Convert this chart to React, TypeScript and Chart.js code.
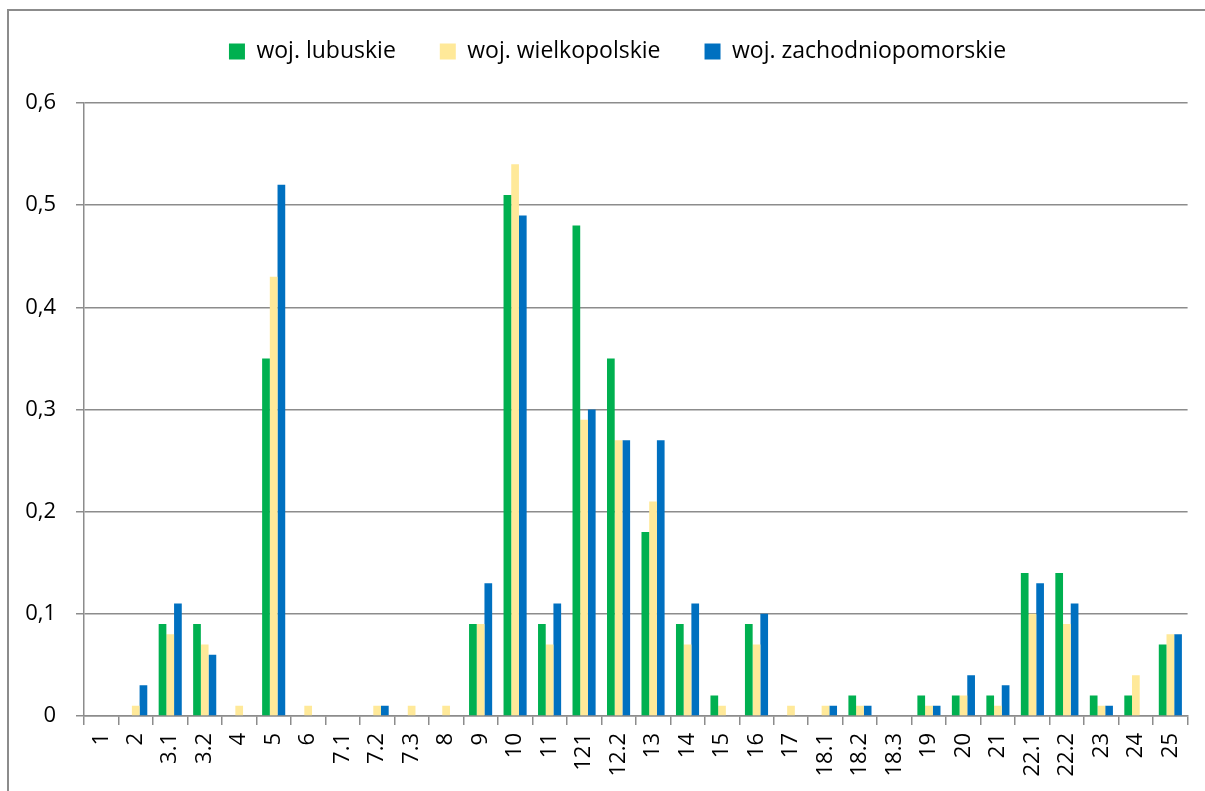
import React, { useEffect, useRef } from "react";
import { Chart, registerables } from "chart.js";

Chart.register(...registerables);

const categories = ["1", "2", "3.1", "3.2", "4", "5", "6", "7.1", "7.2", "7.3", "8", "9", "10", "11", "121", "12.2", "13", "14", "15", "16", "17", "18.1", "18.2", "18.3", "19", "20", "21", "22.1", "22.2", "23", "24", "25"];

const lubuskie = [0, 0, 0.09, 0.09, 0, 0.35, 0, 0, 0, 0, 0, 0.09, 0.51, 0.09, 0.48, 0.35, 0.18, 0.09, 0.02, 0.09, 0, 0, 0.02, 0, 0.02, 0.02, 0.02, 0.14, 0.14, 0.02, 0.02, 0.07];
const wielkopolskie = [0, 0.01, 0.08, 0.07, 0.01, 0.43, 0.01, 0, 0.01, 0.01, 0.01, 0.09, 0.54, 0.07, 0.29, 0.27, 0.21, 0.07, 0.01, 0.07, 0.01, 0.01, 0.01, 0, 0.01, 0.02, 0.01, 0.1, 0.09, 0.01, 0.04, 0.08];
const zachodniopomorskie = [0, 0.03, 0.11, 0.06, 0, 0.52, 0, 0, 0.01, 0, 0, 0.13, 0.49, 0.11, 0.3, 0.27, 0.27, 0.11, 0, 0.1, 0, 0.01, 0.01, 0, 0.01, 0.04, 0.03, 0.13, 0.11, 0.01, 0, 0.08];

const seriesNames = ["woj. lubuskie", "woj. wielkopolskie", "woj. zachodniopomorskie"];
const seriesColors = ["#00B050", "#FFE999", "#0070C0"];

const yMin = 0;
const yMax = 0.6;
const yStep = 0.1;

const FONT = "'Open Sans'";
const GRID = "#8c8c8c";
const LEGEND_EXTRA = 26;
const LEGEND_SHIFT_X = 23;
const LEGEND_SHIFT_Y = -4;

const legendGap = {
  id: "legendGap",
  afterInit(chart: any) {
    const legend = chart.legend;
    if (!legend || legend.__gapped) return;
    legend.__gapped = true;
    const fit = legend.fit;
    legend.fit = function (this: any) {
      fit.call(this);
      this.height += LEGEND_EXTRA;
    };
    const draw = legend.draw;
    legend.draw = function (this: any, ...args: any[]) {
      const ctx = this.ctx;
      ctx.save();
      ctx.translate(LEGEND_SHIFT_X, LEGEND_SHIFT_Y);
      draw.apply(this, args);
      ctx.restore();
    };
  },
};

export default function App() {
  const ref = useRef<HTMLCanvasElement | null>(null);

  useEffect(() => {
    document.body.style.margin = "0";
    document.body.style.overflow = "hidden";
    const canvas = ref.current;
    if (!canvas) return;
    const chart = new Chart(canvas, {
      type: "bar",
      data: {
        labels: categories,
        datasets: [lubuskie, wielkopolskie, zachodniopomorskie].map((d, i) => ({
          label: seriesNames[i],
          data: d,
          backgroundColor: seriesColors[i],
          borderWidth: 0,
          barPercentage: 1,
          categoryPercentage: 0.67,
        })),
      },
      plugins: [legendGap],
      options: {
        responsive: false,
        animation: false,
        maintainAspectRatio: false,
        layout: { padding: { left: 0, right: 16, top: 0, bottom: 0 } },
        plugins: {
          tooltip: { enabled: false },
          legend: {
            position: "top",
            align: "center",
            labels: {
              boxWidth: 16,
              boxHeight: 16,
              padding: 44,
              color: "#000",
              font: { family: FONT, size: 23 },
            },
          },
        },
        scales: {
          x: {
            offset: true,
            grid: {
              offset: true,
              drawOnChartArea: false,
              drawTicks: true,
              tickLength: 9,
              color: GRID,
              lineWidth: 1.5,
            },
            border: { display: true, color: GRID, width: 1.5 },
            ticks: {
              autoSkip: false,
              minRotation: 90,
              maxRotation: 90,
              padding: 8,
              color: "#000",
              font: { family: FONT, size: 22 },
            },
            afterFit: (s: any) => {
              s.height = 75;
            },
          },
          y: {
            min: yMin,
            max: yMax,
            ticks: {
              stepSize: yStep,
              padding: 20,
              color: "#000",
              font: { family: FONT, size: 22 },
              callback: (v: any) => (Number(v) === 0 ? "0" : Number(v).toFixed(1).replace(".", ",")),
            },
            grid: {
              color: GRID,
              lineWidth: 1.5,
              drawTicks: true,
              tickLength: 8,
            },
            border: { display: true, color: GRID, width: 1.5 },
            afterFit: (s: any) => {
              s.width = 84;
            },
          },
        },
      },
    });
    return () => chart.destroy();
  }, []);

  return (
    <div style={{ position: "fixed", left: 0, top: 0, width: 1205, height: 791, overflow: "hidden", background: "#fff" }}>
      <div
        style={{
          position: "absolute",
          left: 7,
          top: 9,
          width: 1400,
          height: 1000,
          borderLeft: "2px solid #8c8c8c",
          borderTop: "2px solid #8c8c8c",
        }}
      />
      <canvas ref={ref} width={1205} height={791} style={{ position: "absolute", left: 0, top: 0, width: 1205, height: 791 }} />
    </div>
  );
}
